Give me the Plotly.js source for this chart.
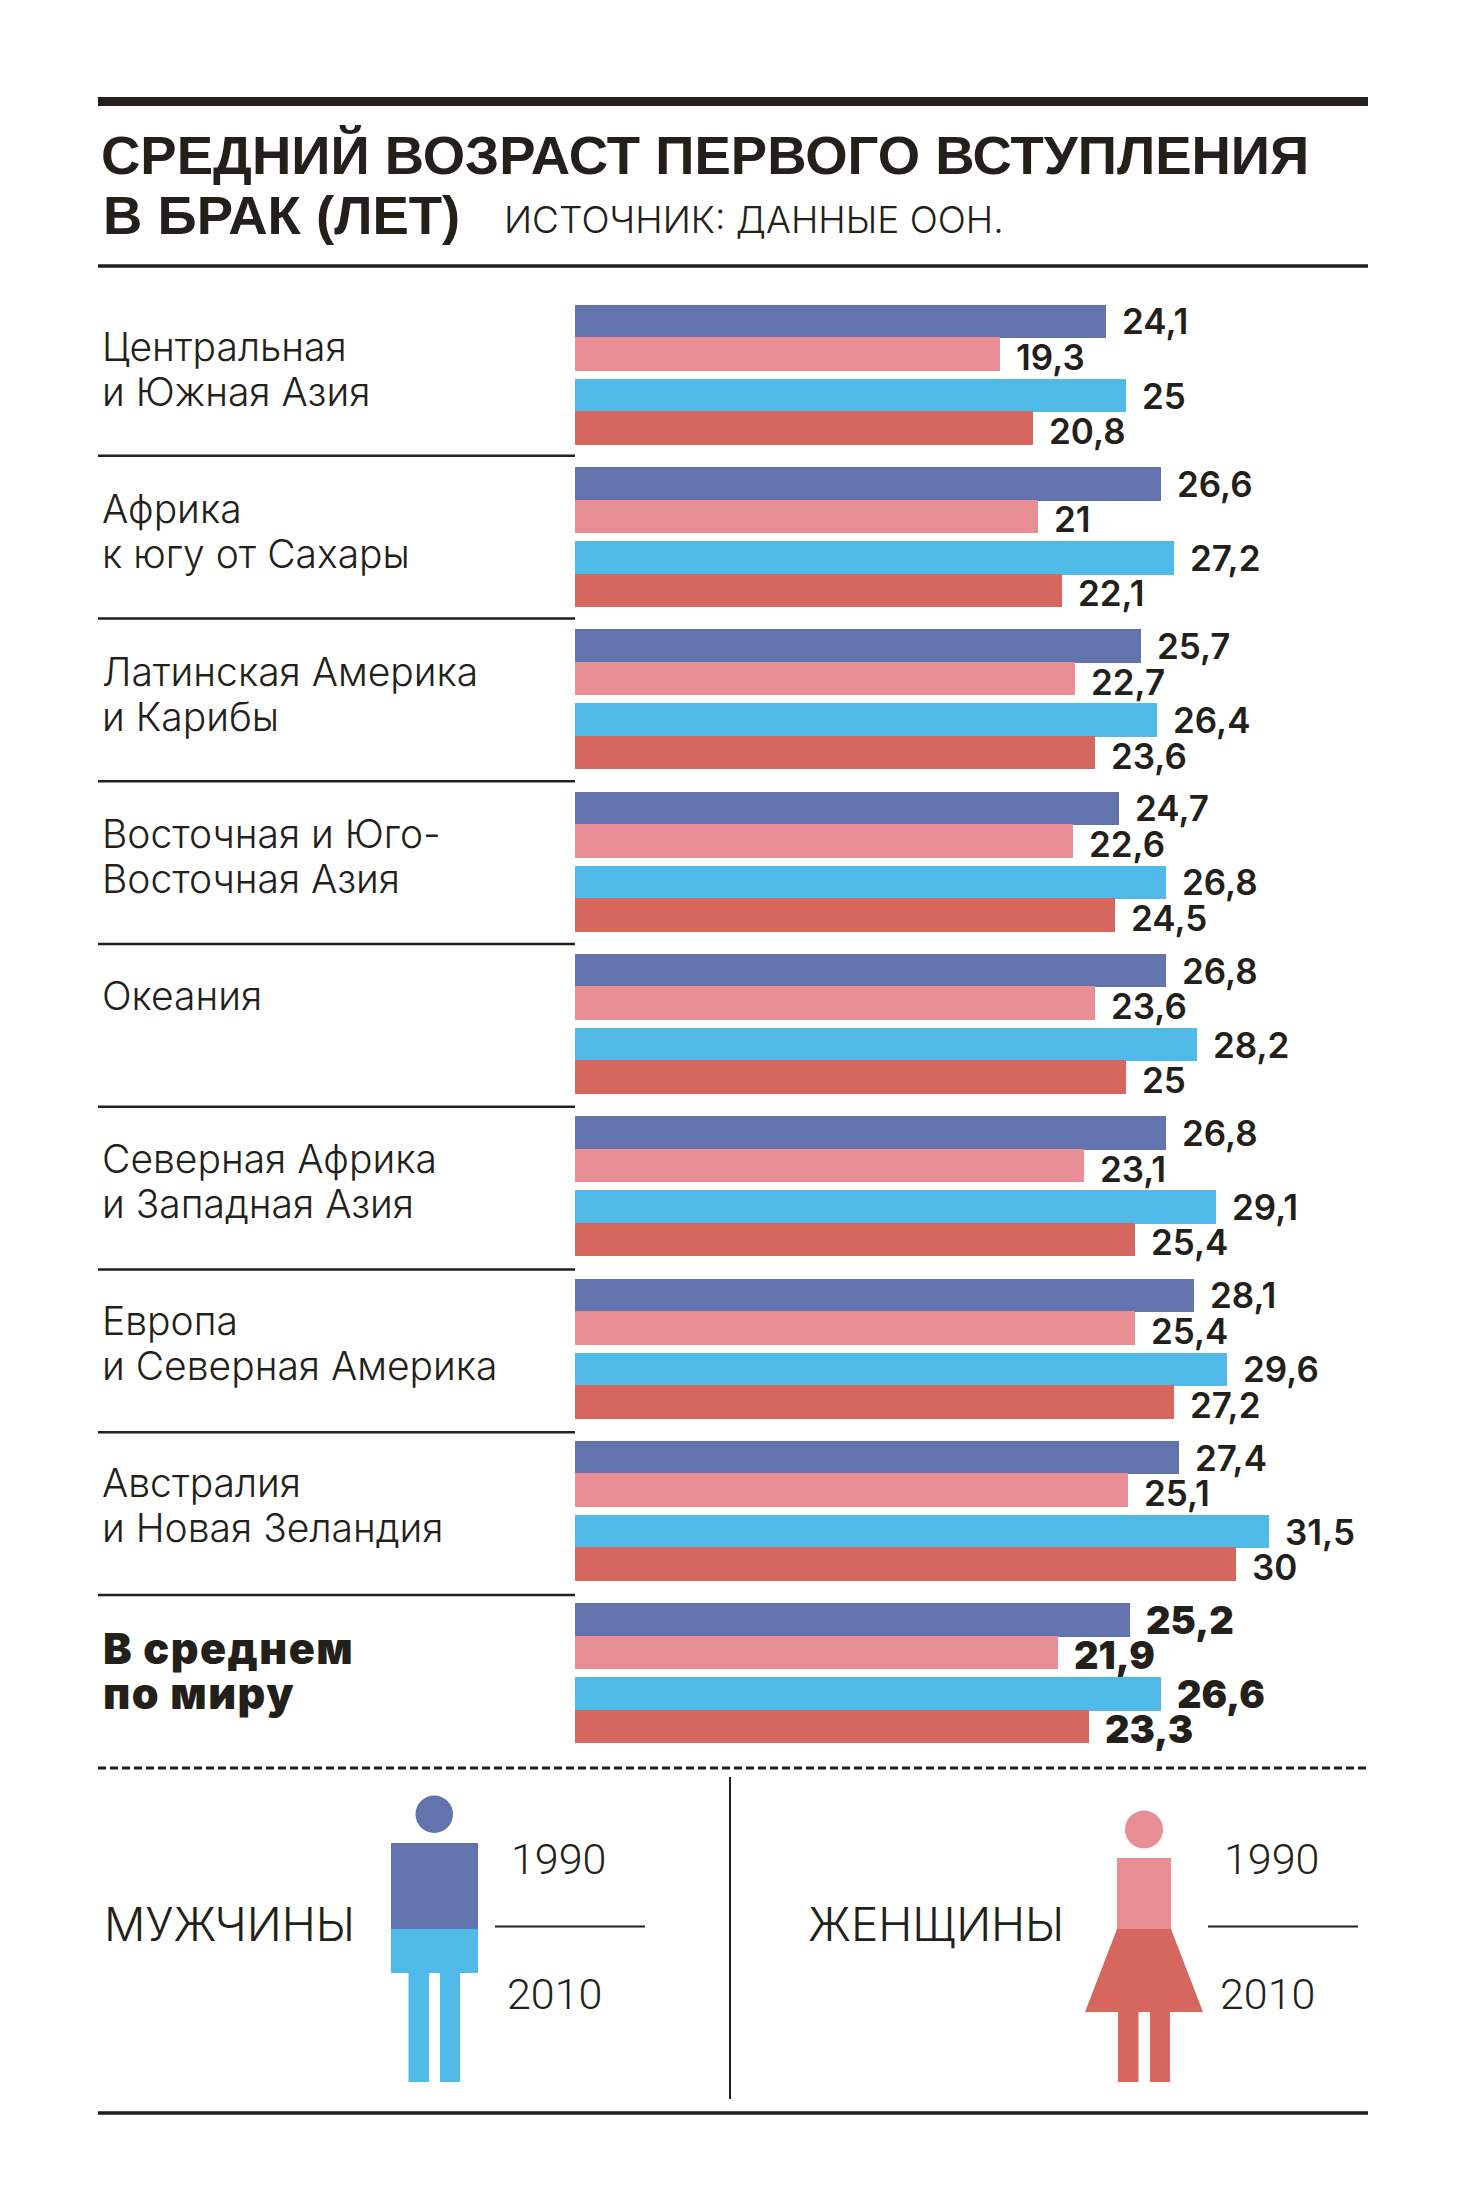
<!DOCTYPE html>
<html><head><meta charset="utf-8">
<script src="https://cdn.plot.ly/plotly-3.0.1.min.js"></script>
<style>html,body{margin:0;padding:0;background:#fff}#c{width:1476px;height:2198px}</style>
</head><body><div id="c"></div>
<script>
const regions = ["Центральная\nи Южная Азия","Африка\nк югу от Сахары","Латинская Америка\nи Карибы","Восточная и Юго-\nВосточная Азия","Океания","Северная Африка\nи Западная Азия","Европа\nи Северная Америка","Австралия\nи Новая Зеландия","В среднем\nпо миру"];
const men1990   = [24.1,26.6,25.7,24.7,26.8,26.8,28.1,27.4,25.2];
const women1990 = [19.3,21,22.7,22.6,23.6,23.1,25.4,25.1,21.9];
const men2010   = [25,27.2,26.4,26.8,28.2,29.1,29.6,31.5,26.6];
const women2010 = [20.8,22.1,23.6,24.5,25,25.4,27.2,30,23.3];
const seriesNames = ["Мужчины 1990","Женщины 1990","Мужчины 2010","Женщины 2010"];
const seriesValues = [men1990,women1990,men2010,women2010];
const seriesColors = ["#6373ae","#e88e94","#4fb9e8","#d5675f"];
const slotOffsets = [-0.3266,-0.1263,0.1294,0.3296];
const labelGaps = [14,14,14,14];
const labelLift = [0,3,0,3];

const W=1476,H=2198,INK="#231f1a";
const px=x=>x/W, py=y=>1-y/H;
const groupStep=162.3, firstCenter=374.5;
const FONT_LIGHT="Inter", FONT_BOLD="Liberation Sans";
const sp=(s,ls)=>`<span style="letter-spacing:${ls}px">${s}</span>`;

const traces=seriesValues.map((vals,s)=>({
  type:"bar",orientation:"h",name:seriesNames[s],
  x:vals,y:vals.map((_,i)=>i+slotOffsets[s]),width:33.5/groupStep,
  marker:{color:seriesColors[s],line:{width:0}},hoverinfo:"x+name",showlegend:false
}));

const ann=[];
function t(text,x,y,size,opts={}){
  ann.push({text,xref:"paper",yref:"paper",x:px(x),y:py(y),xanchor:"left",yanchor:"middle",showarrow:false,
    font:{family:opts.family||FONT_LIGHT,size,color:INK,weight:opts.weight||300}});
}
t("В БРАК (ЛЕТ)",101,215,54.5,{family:FONT_BOLD,weight:700});
t("ИСТОЧНИК: ДАННЫЕ ООН.",502,220,37,{weight:300});
regions.forEach((r,i)=>{
  const last=i===regions.length-1;
  r.split("\n").forEach((line,k)=>{
    const y=firstCenter+groupStep*i-26+k*45-2;
    if(last) t(sp(line,1.5),101,y+3,43,{family:"Inter",weight:900});
    else t(line,100,y,39,{weight:300});
  });
});
seriesValues.forEach((vals,s)=>vals.forEach((v,i)=>{
  const last=i===regions.length-1;
  ann.push({text:String(v).replace(".",","),xref:"x",yref:"y",x:v,y:i+slotOffsets[s],xanchor:"left",yanchor:"middle",showarrow:false,
    xshift:labelGaps[s],yshift:-labelLift[s],
    font:{family:"Inter",size:last?38:35,color:INK,weight:last?900:600}});
}));
t("МУЖЧИНЫ",102,1924,46);
t("ЖЕНЩИНЫ",806,1924,46);
t("1990",509,1859,43,{family:"Roboto"});t("2010",505,1994,43,{family:"Roboto"});
t("1990",1222,1859,43,{family:"Roboto"});t("2010",1218,1994,43,{family:"Roboto"});

const shapes=[];
const rect=(x0,y0,x1,y1,c)=>shapes.push({type:"rect",xref:"paper",yref:"paper",x0:px(x0),x1:px(x1),y0:py(y0),y1:py(y1),fillcolor:c,line:{width:0}});
const hline=(x0,x1,y,wd,dash)=>shapes.push({type:"line",xref:"paper",yref:"paper",x0:px(x0),x1:px(x1),y0:py(y),y1:py(y),line:{color:INK,width:wd,dash:dash||"solid"}});
hline(98,1368,101.5,9);
hline(98,1368,266,3.5);
regions.slice(0,-1).forEach((_,i)=>hline(98,575,455.7+i*162.76,2.5));
hline(98,1366,1768,3,"8px,4px");
shapes.push({type:"line",xref:"paper",yref:"paper",x0:px(730),x1:px(730),y0:py(1777),y1:py(2099),line:{color:INK,width:2}});
hline(98,1368,2113,3.5);
hline(495,645,1926.5,2);
hline(1208,1358,1926.5,2);
const ell=(x0,y0,x1,y1,c)=>shapes.push({type:"circle",xref:"paper",yref:"paper",x0:px(x0),x1:px(x1),y0:py(y0),y1:py(y1),fillcolor:c,line:{width:0}});
ell(415.5,1795.5,453,1833,seriesColors[0]);
rect(391,1843,478,1929,seriesColors[0]);
rect(391,1929,478,1973,seriesColors[2]);
rect(408.5,1973,429,2082,seriesColors[2]);
rect(440,1973,460,2082,seriesColors[2]);
ell(1125,1810.5,1163,1848.5,seriesColors[1]);
rect(1117,1858,1171,1929,seriesColors[1]);
shapes.push({type:"path",xref:"paper",yref:"paper",
  path:`M ${px(1117)} ${py(1929)} L ${px(1171)} ${py(1929)} L ${px(1203)} ${py(2012)} L ${px(1085)} ${py(2012)} Z`,fillcolor:seriesColors[3],line:{width:0}});
rect(1118,2012,1138.5,2082,seriesColors[3]);
rect(1150,2012,1170,2082,seriesColors[3]);

const layout={
  width:W,height:H,margin:{l:0,r:0,t:0,b:0},paper_bgcolor:"#fff",plot_bgcolor:"rgba(0,0,0,0)",
  title:{text:"СРЕДНИЙ ВОЗРАСТ ПЕРВОГО ВСТУПЛЕНИЯ",x:px(101),xanchor:"left",xref:"paper",y:py(155),yanchor:"middle",yref:"paper",font:{family:FONT_BOLD,size:54.5,color:INK,weight:700}},
  xaxis:{domain:[575/W,1],range:[0,(W-575)/22.04],visible:false,fixedrange:true},
  yaxis:{domain:[0,1],range:[(H-firstCenter)/groupStep,-firstCenter/groupStep],visible:false,fixedrange:true},
  bargap:0,showlegend:false,annotations:ann,shapes
};
Plotly.newPlot("c",traces,layout,{displayModeBar:false,staticPlot:true});
</script></body></html>
